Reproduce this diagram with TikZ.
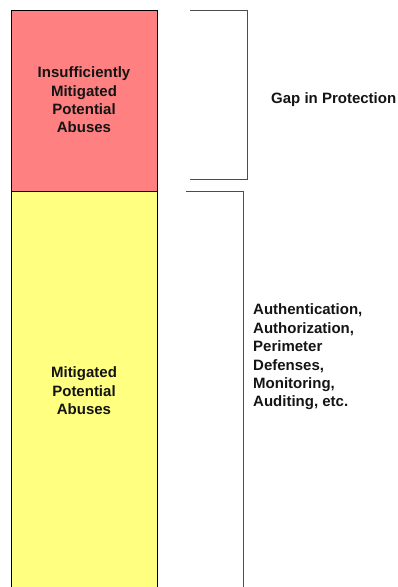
\documentclass[tikz,border=0pt]{standalone}
\usepackage{fontspec}
\setmainfont{Liberation Sans}
\begin{document}
\begin{tikzpicture}[x=1pt,y=-1pt,
  block/.style={draw=black,line width=0.9pt,minimum width=146pt,anchor=north west,inner sep=0pt},
  lbl/.style={font=\bfseries\fontsize{15}{18.4}\selectfont,align=center,text=black!92},
  side/.style={font=\bfseries\fontsize{15}{18.4}\selectfont,align=left,anchor=west,text=black!92,inner sep=0pt},
  brk/.style={draw=black!70,line width=1pt}]
\useasboundingbox (0,0) rectangle (397,587);
\begin{scope}
\clip (0,0) rectangle (397,587);
\node[block,fill={rgb,255:red,255;green,128;blue,128},minimum height=181pt] (red) at (11,10) {};
\node[block,fill={rgb,255:red,255;green,255;blue,128},minimum height=410pt] (yel) at (11,191) {};
\end{scope}
\node[lbl] (redtxt) at (84,100) {Insufficiently\\Mitigated\\Potential\\Abuses};
\node[lbl] (yeltxt) at (84,391) {Mitigated\\Potential\\Abuses};
% brackets
\coordinate (b1a) at (190,10);
\coordinate (b1b) at (247,10);
\coordinate (b1c) at (247,179.5);
\coordinate (b1d) at (190,179.5);
\draw[brk] (b1a) -- (b1b) -- (b1c) -- (b1d);
\coordinate (b2a) at (186,191.5);
\coordinate (b2b) at (243,191.5);
\coordinate (b2c) at (243,590);
\draw[brk] (b2a) -- (b2b) -- (b2c);
\node[side] (gap) at (271,100) {Gap in Protection};
\node[side] (ctrl) at (253,357) {Authentication,\\Authorization,\\Perimeter\\Defenses,\\Monitoring,\\Auditing, etc.};
\end{tikzpicture}
\end{document}
